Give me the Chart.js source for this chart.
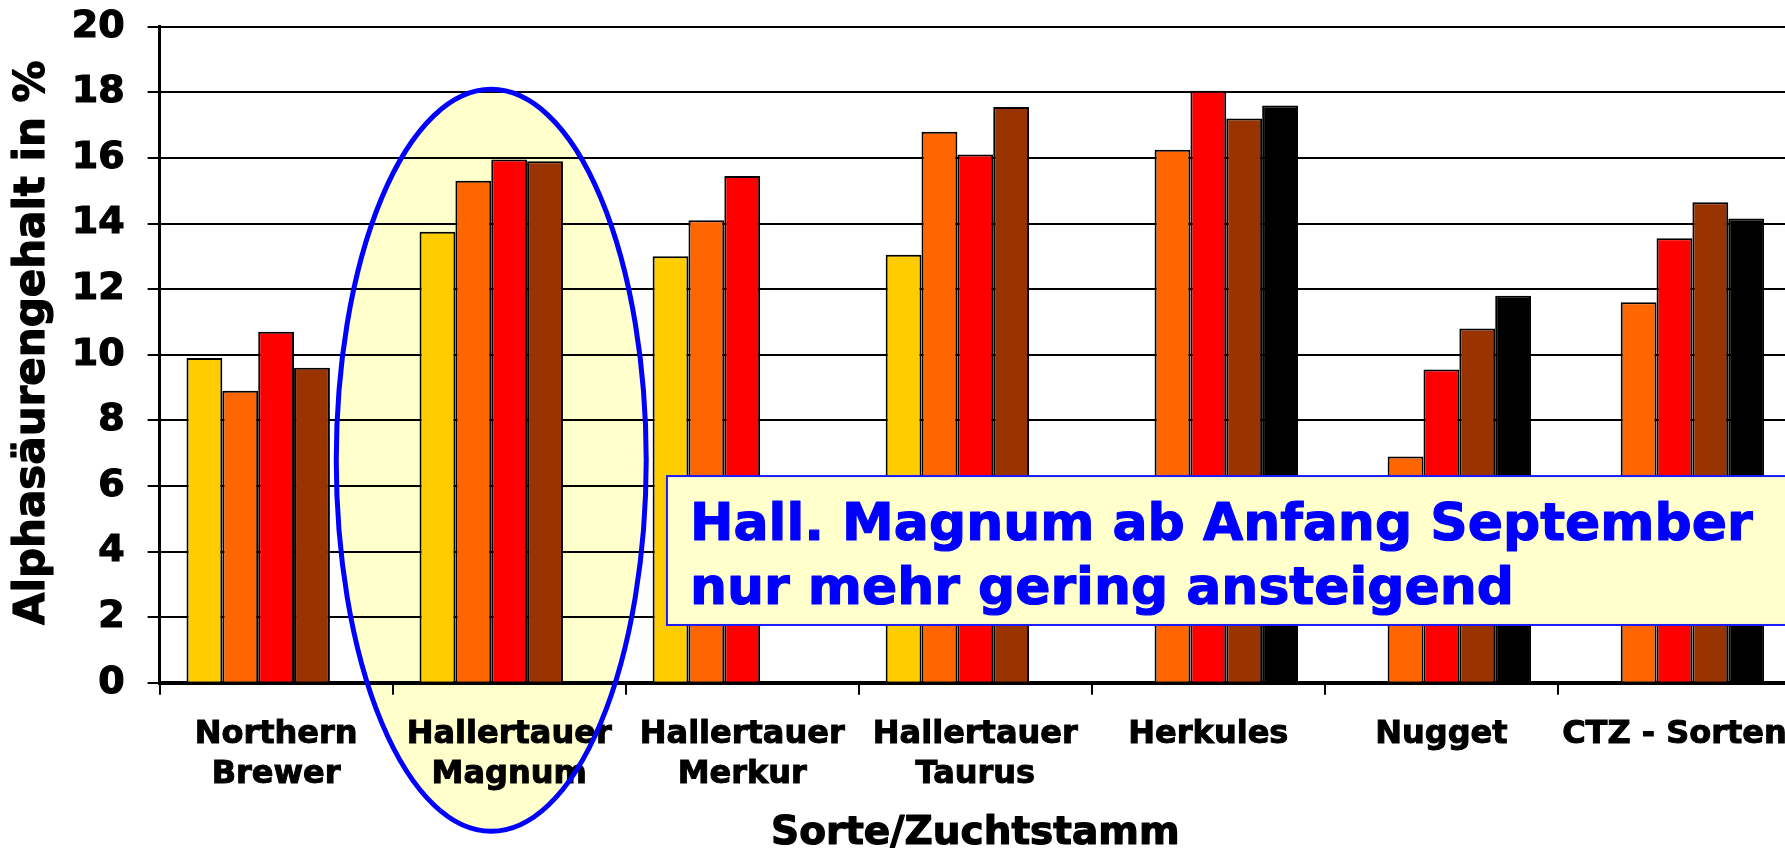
<!DOCTYPE html>
<html>
<head>
<meta charset="utf-8">
<script src="https://cdn.jsdelivr.net/npm/chart.js@4/dist/chart.umd.min.js"></script>
<style>
  html, body { margin: 0; padding: 0; background: #fff; overflow: hidden; }
  canvas { display: block; }
</style>
</head>
<body>
<canvas id="chart" width="1791" height="850"></canvas>
<script>
// Sorten (categories) and the five sampling dates, values in % alpha acid
const sorten = [
  ['Northern', 'Brewer'],
  ['Hallertauer', 'Magnum'],
  ['Hallertauer', 'Merkur'],
  ['Hallertauer', 'Taurus'],
  'Herkules',
  'Nugget',
  'CTZ - Sorten'
];
const termin1 = [9.9, 13.75, 13.0, 13.05, null, null, null];
const termin2 = [8.9, 15.3, 14.1, 16.8, 16.25, 6.9, 11.6];
const termin3 = [10.7, 15.95, 15.45, 16.1, 18.05, 9.55, 13.55];
const termin4 = [9.6, 15.9, null, 17.55, 17.2, 10.8, 14.65];
const termin5 = [null, null, null, null, 17.6, 11.8, 14.15];
const yMin = 0, yMax = 20, yStep = 2;

const colors = ['#FFCC00', '#FF6600', '#FF0000', '#993300', '#000000'];
const FONT = 'Verdana, "DejaVu Sans", sans-serif';

// annotation placement in scale units (category index / value)
const ellipse = { cat: 0.923, val: 6.78, rxCat: 0.665, ryVal: 11.31 };
const note = {
  cat: 1.677, top: 6.3, bottom: 1.76,
  lines: ['Hall. Magnum ab Anfang September', 'nur mehr gering ansteigend']
};
const yTitle = 'Alphasäurengehalt in %';
const xTitle = 'Sorte/Zuchtstamm';

function ellipsePath(chart) {
  const { ctx, scales: { x, y } } = chart;
  const cw = x.getPixelForValue(1) - x.getPixelForValue(0);
  const uy = y.getPixelForValue(0) - y.getPixelForValue(1);
  ctx.beginPath();
  ctx.ellipse(x.getPixelForValue(0) + cw * ellipse.cat, y.getPixelForValue(ellipse.val),
    cw * ellipse.rxCat, uy * ellipse.ryVal, 0, 0, Math.PI * 2);
}

// bold text with a thin outline, the original font is heavier than DejaVu Bold
function heavyText(ctx, t, x, y, color, stroke) {
  ctx.fillStyle = color;
  ctx.strokeStyle = color;
  ctx.lineWidth = stroke;
  ctx.lineJoin = 'round';
  ctx.strokeText(t, x, y);
  ctx.fillText(t, x, y);
}

const deko = {
  id: 'deko',
  beforeDraw(chart) {
    const ctx = chart.ctx;
    ctx.save();
    ellipsePath(chart);
    ctx.fillStyle = '#FFFFCC';
    ctx.fill();
    ctx.restore();
  },
  beforeDatasetsDraw(chart) {
    const ctx = chart.ctx;
    ctx.save();
    ellipsePath(chart);
    ctx.strokeStyle = '#0000FF';
    ctx.lineWidth = 5;
    ctx.stroke();
    ctx.restore();
  },
  afterDraw(chart) {
    const { ctx, scales: { x, y }, chartArea } = chart;
    const cw = x.getPixelForValue(1) - x.getPixelForValue(0);
    // note box
    const left = x.getPixelForValue(0) + cw * note.cat;
    const top = y.getPixelForValue(note.top);
    const bottom = y.getPixelForValue(note.bottom);
    ctx.save();
    ctx.fillStyle = '#FFFFCC';
    ctx.strokeStyle = '#1a1aff';
    ctx.lineWidth = 2;
    ctx.fillRect(left, top, chart.width - left + 20, bottom - top);
    ctx.strokeRect(left, top, chart.width - left + 20, bottom - top);
    ctx.font = 'bold 52px ' + FONT;
    ctx.textBaseline = 'alphabetic';
    ctx.textAlign = 'left';
    note.lines.forEach((t, i) => heavyText(ctx, t, left + 23, top + 64 + i * 64, '#0000FF', 1.2));
    ctx.restore();
    // y axis title
    ctx.save();
    ctx.translate(44, (chartArea.top + chartArea.bottom) / 2 - 12);
    ctx.rotate(-Math.PI / 2);
    ctx.font = 'bold 42px ' + FONT;
    ctx.textAlign = 'center';
    ctx.textBaseline = 'alphabetic';
    heavyText(ctx, yTitle, 0, 0, '#000', 1.2);
    ctx.restore();
    // x axis title
    ctx.save();
    ctx.font = 'bold 39px ' + FONT;
    ctx.textAlign = 'center';
    ctx.textBaseline = 'alphabetic';
    heavyText(ctx, xTitle, (chartArea.left + chartArea.right) / 2, chart.height - 6, '#000', 1.2);
    ctx.restore();
  }
};

const series = [termin1, termin2, termin3, termin4, termin5];

new Chart(document.getElementById('chart'), {
  type: 'bar',
  data: {
    labels: sorten,
    datasets: series.map((d, i) => ({
      label: 'Termin ' + (i + 1),
      data: d,
      backgroundColor: colors[i],
      borderColor: '#000',
      borderWidth: 2,
      barPercentage: 1,
      categoryPercentage: 1 / 1.3
    }))
  },
  options: {
    responsive: false,
    animation: false,
    devicePixelRatio: 1,
    layout: { padding: { top: 26.7, left: 0, right: 0, bottom: 0 } },
    plugins: { legend: { display: false }, tooltip: { enabled: false } },
    scales: {
      x: {
        afterFit(s) { s.height = 167.3; s.paddingLeft = 0; s.paddingRight = 0; },
        grid: { drawOnChartArea: false, drawTicks: true, tickLength: 12, color: '#000', lineWidth: 2 },
        border: { display: true, color: '#000', width: 4 },
        ticks: {
          color: '#000', padding: 20, maxRotation: 0, autoSkip: false,
          textStrokeColor: '#000', textStrokeWidth: 1,
          font: { family: FONT, size: 32, weight: 'bold', lineHeight: 1.25 }
        }
      },
      y: {
        min: yMin, max: yMax,
        afterFit(s) { s.width = 159.6; s.paddingTop = 0; s.paddingBottom = 0; },
        grid: { color: '#000', lineWidth: 2, tickLength: 12 },
        border: { display: true, color: '#000', width: 3 },
        ticks: {
          stepSize: yStep, color: '#000', padding: 23,
          textStrokeColor: '#000', textStrokeWidth: 1.2,
          font: { family: FONT, size: 38, weight: 'bold' }
        }
      }
    }
  },
  plugins: [deko]
});
</script>
</body>
</html>
